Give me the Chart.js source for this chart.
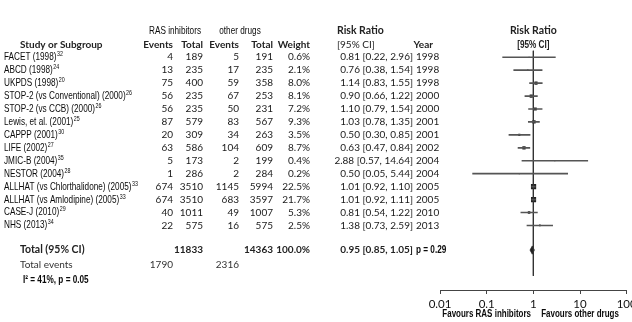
<!DOCTYPE html>
<html>
<head>
<meta charset="utf-8">
<script src="https://cdn.jsdelivr.net/npm/chart.js@4/dist/chart.umd.min.js"></script>
<style>
  html, body { margin: 0; padding: 0; background: #fff; overflow: hidden; }
  #wrap { width: 632px; height: 322px; overflow: hidden; }
  canvas { display: block; }
</style>
</head>
<body>
<div id="wrap"><canvas id="forest" width="645" height="322"></canvas></div>
<script>
// Trials: name, citation, events/totals per arm, weight, risk ratio with 95% CI, year
const studies = [
  'FACET (1998)', 'ABCD (1998)', 'UKPDS (1998)', 'STOP-2 (vs Conventional) (2000)',
  'STOP-2 (vs CCB) (2000)', 'Lewis, et al. (2001)', 'CAPPP (2001)', 'LIFE (2002)',
  'JMIC-B (2004)', 'NESTOR (2004)', 'ALLHAT (vs Chlorthalidone) (2005)',
  'ALLHAT (vs Amlodipine) (2005)', 'CASE-J (2010)', 'NHS (2013)'
];
const refs = ['32', '24', '20', '26', '26', '25', '30', '27', '35', '28', '33', '33', '29', '34'];
const rasEvents = [4, 13, 75, 56, 56, 87, 20, 63, 5, 1, 674, 674, 40, 22];
const rasTotal = [189, 235, 400, 235, 235, 579, 309, 586, 173, 286, 3510, 3510, 1011, 575];
const otherEvents = [5, 17, 59, 67, 50, 83, 34, 104, 2, 2, 1145, 683, 49, 16];
const otherTotal = [191, 235, 358, 253, 231, 567, 263, 609, 199, 284, 5994, 3597, 1007, 575];
const weights = [0.6, 2.1, 8.0, 8.1, 7.2, 9.3, 3.5, 8.7, 0.4, 0.2, 22.5, 21.7, 5.3, 2.5];
const riskRatio = [0.81, 0.76, 1.14, 0.90, 1.10, 1.03, 0.50, 0.63, 2.88, 0.50, 1.01, 1.01, 0.81, 1.38];
const ciLow = [0.22, 0.38, 0.83, 0.66, 0.79, 0.78, 0.30, 0.47, 0.57, 0.05, 0.92, 0.92, 0.54, 0.73];
const ciHigh = [2.96, 1.54, 1.55, 1.22, 1.54, 1.35, 0.85, 0.84, 14.64, 5.44, 1.10, 1.11, 1.22, 2.59];
const years = [1998, 1998, 1998, 2000, 2000, 2001, 2001, 2002, 2004, 2004, 2005, 2005, 2010, 2013];

// Pooled result
const totalRas = 11833;
const totalOther = 14363;
const totalWeight = 100.0;
const totalRR = 0.95;
const totalLow = 0.85;
const totalHigh = 1.05;
const totalPValue = '0.29';
const totalEventsRas = 1790;
const totalEventsOther = 2316;
const heterogeneity = 'I² = 41%, p = 0.05';

// Axis ticks
const tickValues = [0.01, 0.1, 1, 10, 100];
const tickLabels = ['0.01', '0.1', '1', '10', '100'];

// Row layout (y is the row index, top to bottom)
const rows = studies.map((_, i) => i);
const totalRow = 14.9;
const eventsRow = 16.07;
const hetRow = 17.25;
const headRow1 = -2.05;
const headRow2 = -0.98;

const fmt2 = v => v.toFixed(2);
const ciText = (r, l, h) => `${fmt2(r)} [${fmt2(l)}, ${fmt2(h)}]`;

const SANS = '"Liberation Sans", Arial, sans-serif';
const NUM = 'Lato, "Open Sans", sans-serif';
const NARROW_SCALE = 0.76;

const tablePlugin = {
  id: 'forestTable',
  afterDraw(chart) {
    const ctx = chart.ctx;
    const ys = chart.scales.y;
    const xs = chart.scales.x;
    const rowY = r => ys.getPixelForValue(r);
    // sx < 1 gives a condensed face from the regular one
    const text = (s, x, y, font, align = 'left', color = '#1a1a1a', sx = 1) => {
      ctx.save();
      ctx.font = font;
      ctx.textAlign = align;
      ctx.textBaseline = 'middle';
      ctx.fillStyle = color;
      ctx.translate(x, y);
      ctx.scale(sx, 1);
      ctx.fillText(s, 0, 0);
      const w = ctx.measureText(s).width * sx;
      ctx.restore();
      return w;
    };
    const narrow = (s, x, y, font, align = 'left', color = '#0a0a0a') =>
      text(s, x, y, font, align, color, NARROW_SCALE);

    // column headers
    const h1 = rowY(headRow1), h2 = rowY(headRow2);
    narrow('RAS inhibitors', 175, h1, `10.8px ${SANS}`, 'center');
    narrow('other drugs', 240, h1, `10.8px ${SANS}`, 'center');
    text('Risk Ratio', 337, h1, `bold 10.5px ${NUM}`, 'left', '#222');
    text('Risk Ratio', xs.getPixelForValue(1), h1, `bold 10.5px ${NUM}`, 'center', '#222');
    text('Study or Subgroup', 20, h2, `bold 10px ${NUM}`, 'left', '#222');
    text('Events', 173, h2, `bold 10px ${NUM}`, 'right', '#222');
    text('Total', 203, h2, `bold 10px ${NUM}`, 'right', '#222');
    text('Events', 239, h2, `bold 10px ${NUM}`, 'right', '#222');
    text('Total', 273, h2, `bold 10px ${NUM}`, 'right', '#222');
    text('Weight', 310, h2, `bold 10px ${NUM}`, 'right', '#222');
    text('[95% CI]', 337, h2, `10px ${NUM}`, 'left', '#222');
    text('Year', 433, h2, `bold 10px ${NUM}`, 'right', '#222');
    narrow('[95% CI]', xs.getPixelForValue(1), h2, `bold 10.8px ${SANS}`, 'center', '#222');

    // study rows
    rows.forEach(i => {
      const y = rowY(i);
      const w = narrow(studies[i], 4, y, `10.8px ${SANS}`);
      narrow(refs[i], 4 + w + 0.5, y - 3, `7px ${SANS}`);
      text(String(rasEvents[i]), 173, y, `10px ${NUM}`, 'right');
      text(String(rasTotal[i]), 203, y, `10px ${NUM}`, 'right');
      text(String(otherEvents[i]), 239, y, `10px ${NUM}`, 'right');
      text(String(otherTotal[i]), 273, y, `10px ${NUM}`, 'right');
      text(weights[i].toFixed(1) + '%', 310, y, `10px ${NUM}`, 'right');
      text(ciText(riskRatio[i], ciLow[i], ciHigh[i]), 413, y, `10px ${NUM}`, 'right');
      text(String(years[i]), 416, y, `10px ${NUM}`, 'left');
    });

    // pooled rows
    const ty = rowY(totalRow);
    text('Total (95% CI)', 20, ty, `bold 10.5px ${NUM}`, 'left', '#222');
    text(String(totalRas), 203, ty, `bold 10px ${NUM}`, 'right', '#222');
    text(String(totalOther), 273, ty, `bold 10px ${NUM}`, 'right', '#222');
    text(totalWeight.toFixed(1) + '%', 310, ty, `bold 10px ${NUM}`, 'right', '#222');
    text(ciText(totalRR, totalLow, totalHigh), 413, ty, `bold 10px ${NUM}`, 'right', '#222');
    narrow('p = ' + totalPValue, 416, ty, `bold 10.8px ${SANS}`);

    const ey = rowY(eventsRow);
    text('Total events', 20, ey, `10px ${NUM}`, 'left', '#333');
    text(String(totalEventsRas), 173, ey, `10px ${NUM}`, 'right', '#333');
    text(String(totalEventsOther), 239, ey, `10px ${NUM}`, 'right', '#333');

    narrow(heterogeneity, 23, rowY(hetRow), `bold 10.8px ${SANS}`);

    // favour labels under the axis
    const fy = 314.5;
    narrow('Favours RAS inhibitors', xs.getPixelForValue(0.1), fy, `bold 10.5px ${SANS}`, 'center');
    narrow('Favours other drugs', xs.getPixelForValue(10), fy, `bold 10.5px ${SANS}`, 'center');
  }
};

const ciBars = rows.map(i => ({ x: [ciLow[i], ciHigh[i]], y: i }));
const estimates = rows.map(i => ({ x: riskRatio[i], y: i }));
const diamondHalf = 0.32;
const diamond = [
  { x: totalLow, y: totalRow },
  { x: totalRR, y: totalRow - diamondHalf },
  { x: totalHigh, y: totalRow },
  { x: totalRR, y: totalRow + diamondHalf },
  { x: totalLow, y: totalRow }
];

new Chart(document.getElementById('forest'), {
  type: 'scatter',
  data: {
    datasets: [
      {
        type: 'bar',
        indexAxis: 'y',
        data: ciBars,
        backgroundColor: '#555',
        borderWidth: 0,
        barThickness: 1,
        grouped: false
      },
      {
        type: 'scatter',
        data: [{ x: 1, y: -0.5 }, { x: 1, y: 16.9 }],
        showLine: true,
        borderColor: '#333',
        borderWidth: 1,
        pointRadius: 0
      },
      {
        type: 'scatter',
        data: estimates,
        pointStyle: 'rect',
        pointRadius: ctx => Math.max(1.1, 1.1 * Math.sqrt(weights[ctx.dataIndex])) / Math.SQRT2,
        pointBorderWidth: 0,
        pointBackgroundColor: '#222',
        pointBorderColor: '#222'
      },
      {
        type: 'scatter',
        data: diamond,
        showLine: true,
        fill: 'shape',
        backgroundColor: '#222',
        borderColor: '#222',
        borderWidth: 0.8,
        pointRadius: 0,
        tension: 0
      }
    ]
  },
  options: {
    responsive: false,
    animation: false,
    devicePixelRatio: 1,
    layout: { padding: { left: 440, right: 18.3, top: 36.7, bottom: 0 } },
    plugins: {
      legend: { display: false },
      tooltip: { enabled: false }
    },
    scales: {
      x: {
        type: 'logarithmic',
        min: 0.01,
        max: 100,
        position: 'bottom',
        afterBuildTicks: s => { s.ticks = tickValues.map(v => ({ value: v })); },
        afterFit: s => { s.height = 32; },
        ticks: {
          autoSkip: false,
          maxRotation: 0,
          padding: 3,
          color: '#111',
          font: { family: 'Lato', size: 11.5 },
          callback: (v, idx) => tickLabels[idx]
        },
        grid: { drawOnChartArea: false, drawTicks: true, tickLength: 4, color: '#444', lineWidth: 1 },
        border: { display: true, color: '#444', width: 1 }
      },
      y: {
        type: 'linear',
        min: -0.5,
        max: 16.9,
        reverse: true,
        display: false
      }
    }
  },
  plugins: [tablePlugin]
});
</script>
</body>
</html>
